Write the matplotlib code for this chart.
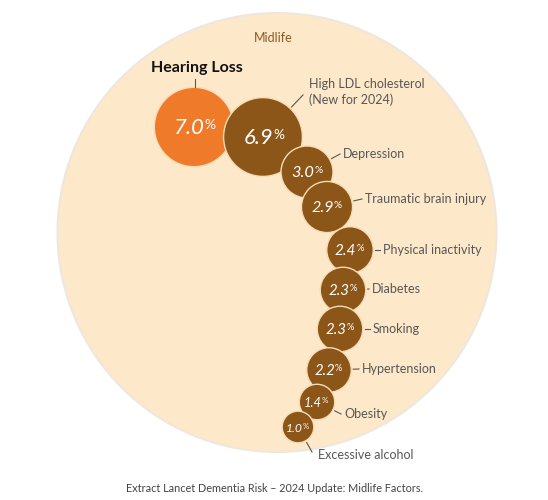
import numpy as np
import matplotlib.pyplot as plt
from matplotlib.patches import Circle

# risk factors, midlife (Lancet 2024)
factors = ['Hearing Loss', 'High LDL cholesterol\n(New for 2024)', 'Depression',
           'Traumatic brain injury', 'Physical inactivity', 'Diabetes', 'Smoking',
           'Hypertension', 'Obesity', 'Excessive alcohol']
values = [7.0, 6.9, 3.0, 2.9, 2.4, 2.3, 2.3, 2.2, 1.4, 1.0]

# layout (pixel space of the 548x500 canvas)
bub_x = [194, 263, 307, 327, 350, 343, 340, 329, 317, 298]
bub_y = [127, 137, 172, 207, 250, 290, 329, 370, 402, 427]
lab_x = [197, 309, 343, 365, 383, 372, 373, 362, 344, 318]
lab_y = [68, 92, 154, 199, 250, 289, 329, 369, 414, 455]

orange = '#ef7b2a'
brown = '#8c5618'
cream = '#fde8c9'
grey = '#575757'

plt.rcParams['font.family'] = ['Lato', 'DejaVu Sans']

fig = plt.figure(figsize=(5.48, 5.0), dpi=100)
ax = fig.add_axes([0, 0, 1, 1])
ax.set_xlim(0, 548)
ax.set_ylim(500, 0)
ax.set_aspect('equal')
ax.axis('off')

# big background disc
ax.add_patch(Circle((277, 232.5), 219.5, facecolor=cream, edgecolor='#efe7de', lw=1.5, zorder=0))
ax.text(273, 38, 'Midlife', ha='center', va='center', fontsize=9, color='#8a5a24')

radii = 15.0 * np.sqrt(values)
radii[-1] += 0.8
for i, (v, cx, cy, r) in enumerate(zip(values, bub_x, bub_y, radii)):
    col = orange if i == 0 else brown
    ax.add_patch(Circle((cx, cy), r, facecolor=col, edgecolor='#f7dcb8', lw=1.0, zorder=2 + i))
    fs = 4 + 0.3 * r
    xe = cx + 0.27 * r
    ax.text(xe, cy + 1, '%.1f' % v, ha='right', va='center', fontsize=fs,
            style='italic', color='white', zorder=20)
    ax.text(xe, cy - 0.06 * r, '%', ha='left', va='center', fontsize=fs * 0.62,
            color='white', zorder=20)

# labels + leader lines
for i, (name, lx, ly) in enumerate(zip(factors, lab_x, lab_y)):
    cx, cy, r = bub_x[i], bub_y[i], radii[i]
    if i == 0:
        ax.text(lx, ly, name, ha='center', va='center', fontsize=11.5, fontweight='bold',
                color='#111111')
        ax.plot([cx + 1, cx + 1], [ly + 11, cy - r], color=grey, lw=0.8)
        continue
    ax.text(lx, ly, name, ha='left', va='center', fontsize=9, color=grey, linespacing=1.35)
    if i == 1:
        tx, ty = lx - 6, ly + 3
    elif i == 9:
        tx, ty = lx - 6, ly - 3
    else:
        tx, ty = lx - 3, ly
    ang = np.arctan2(ty - cy, tx - cx)
    sx, sy = cx + (r + 2) * np.cos(ang), cy + (r + 2) * np.sin(ang)
    ax.plot([sx, tx], [sy, ty], color=grey, lw=0.8)

ax.text(275, 488, 'Extract Lancet Dementia Risk \u2013 2024 Update: Midlife Factors.',
        ha='center', va='center', fontsize=7.8, color='#444444')

fig.savefig('out.png', dpi=100)
